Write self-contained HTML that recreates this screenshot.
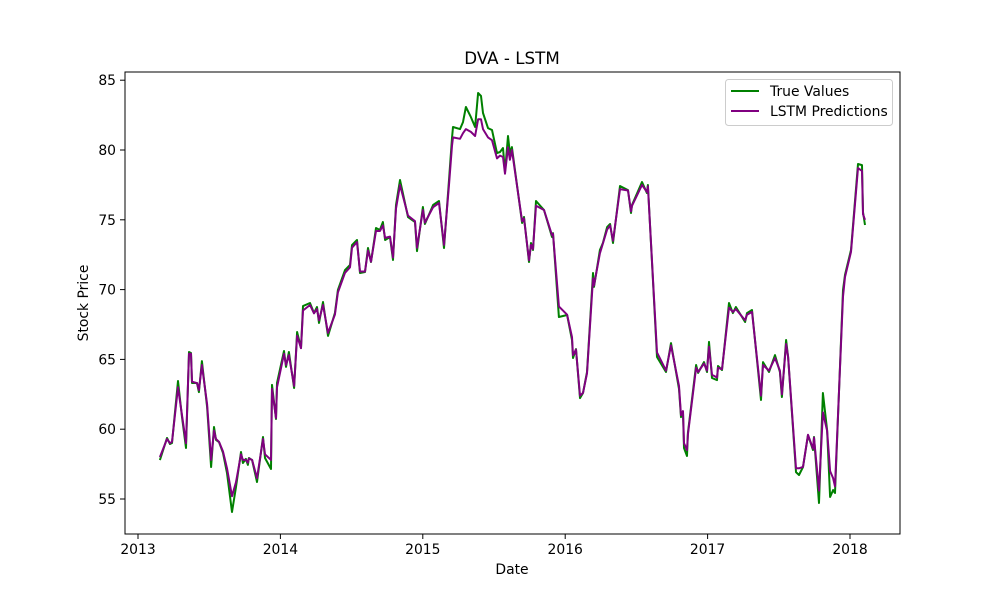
<!DOCTYPE html>
<html><head><meta charset="utf-8"><style>
body{margin:0;background:#fff}
svg{display:block;font-family:"DejaVu Sans","Liberation Sans",sans-serif}
</style></head><body>
<svg id="chart" width="1000" height="600" viewBox="0 0 1000 600">
<rect width="1000" height="600" fill="#fff"/>
<text x="512" y="64" font-size="16.7" text-anchor="middle">DVA - LSTM</text>
<g id="plot"></g>
<rect x="125" y="72" width="775" height="462" fill="none" stroke="#000" stroke-width="1"/>
<g id="ticks"></g>
<text x="512" y="574" font-size="13.9" text-anchor="middle">Date</text>
<text x="88" y="303" font-size="13.9" text-anchor="middle" transform="rotate(-90 88 303)">Stock Price</text>
<g>
<rect x="725.5" y="79.5" width="167" height="46" rx="3" fill="#fff" fill-opacity="0.8" stroke="#ccc"/>
<g><line x1="731" y1="91" x2="759" y2="91" stroke="green" stroke-width="2"/><text x="770" y="96" font-size="13.9">True Values</text></g>
<g><line x1="731" y1="111" x2="759" y2="111" stroke="purple" stroke-width="2"/><text x="770" y="116" font-size="13.9">LSTM Predictions</text></g>
</g>
</svg>
<script>
const dates=[0.154,0.204,0.225,0.239,0.281,0.309,0.337,0.358,0.372,0.379,0.414,0.428,0.449,0.485,0.513,0.534,0.548,0.569,0.597,0.625,0.660,0.688,0.723,0.737,0.758,0.772,0.779,0.801,0.836,0.878,0.892,0.934,0.941,0.969,0.976,1.025,1.039,1.060,1.096,1.117,1.145,1.159,1.208,1.236,1.257,1.271,1.299,1.334,1.383,1.404,1.454,1.489,1.503,1.538,1.559,1.594,1.615,1.636,1.671,1.699,1.720,1.735,1.770,1.791,1.812,1.840,1.896,1.945,1.959,2.001,2.015,2.072,2.114,2.149,2.184,2.205,2.212,2.261,2.282,2.303,2.338,2.367,2.388,2.409,2.423,2.458,2.486,2.521,2.542,2.563,2.577,2.598,2.612,2.626,2.697,2.711,2.746,2.760,2.774,2.795,2.851,2.907,2.914,2.956,3.013,3.048,3.055,3.076,3.104,3.125,3.153,3.195,3.202,3.244,3.265,3.294,3.315,3.336,3.385,3.441,3.462,3.469,3.539,3.574,3.581,3.645,3.708,3.743,3.799,3.813,3.827,3.834,3.855,3.862,3.919,3.933,3.975,3.996,4.010,4.031,4.066,4.073,4.101,4.150,4.178,4.199,4.263,4.277,4.312,4.375,4.389,4.431,4.473,4.508,4.522,4.551,4.565,4.621,4.642,4.670,4.705,4.740,4.747,4.782,4.810,4.839,4.860,4.881,4.895,4.951,4.965,5.007,5.056,5.084,5.091,5.105];
const trueVals=[57.79,59.37,58.94,59.01,63.45,60.87,58.65,65.53,65.46,63.31,63.31,62.66,64.88,61.59,57.29,60.16,59.23,59.08,58.30,56.86,54.07,55.86,58.37,57.58,57.87,57.44,57.94,57.79,56.22,59.44,57.94,57.15,63.17,60.73,63.31,65.60,64.46,65.53,62.95,66.96,65.82,68.82,69.04,68.32,68.75,67.61,69.11,66.68,68.32,69.97,71.40,71.76,73.19,73.55,71.19,71.26,72.98,71.98,74.41,74.27,74.84,73.55,73.77,72.12,76.06,77.85,75.20,74.84,72.76,75.92,74.70,76.06,76.35,72.98,77.85,80.86,81.65,81.50,82.00,83.08,82.36,81.65,84.08,83.87,82.65,81.57,81.43,79.78,79.86,80.14,78.42,81.00,79.78,80.21,74.77,75.20,71.98,73.34,72.84,76.35,75.70,73.77,74.05,68.04,68.18,66.39,65.10,65.74,62.23,62.59,64.10,71.19,70.19,72.84,73.34,74.48,74.70,73.34,77.42,77.13,75.49,76.06,77.71,76.92,77.49,65.17,64.10,66.17,62.88,60.87,61.16,58.65,58.08,59.73,64.60,64.03,64.81,64.10,66.25,63.67,63.52,64.53,64.24,69.04,68.32,68.75,67.68,68.32,68.54,62.09,64.81,64.10,65.31,64.10,62.31,66.39,65.17,56.93,56.72,57.29,59.58,58.51,59.44,54.71,62.59,59.94,55.14,55.64,55.43,69.97,71.05,72.84,79.00,78.92,75.56,74.63];
const predVals=[58.0,59.3,59.0,59.1,63.0,61.0,59.0,65.4,65.4,63.4,63.3,62.8,64.6,61.8,57.8,59.9,59.3,59.1,58.4,57.2,55.2,56.2,58.2,57.8,57.8,57.6,57.9,57.8,56.5,59.3,58.2,57.8,62.9,60.8,63.0,65.4,64.6,65.3,63.1,66.7,65.8,68.5,68.9,68.3,68.6,67.8,68.9,66.9,68.2,69.8,71.2,71.6,73.0,73.4,71.3,71.3,72.8,72.0,74.2,74.2,74.6,73.7,73.8,72.3,75.8,77.5,75.3,74.9,73.0,75.7,74.8,75.9,76.2,73.2,77.5,80.3,80.9,80.8,81.2,81.5,81.3,81.0,82.2,82.2,81.5,80.9,80.7,79.4,79.6,79.5,78.3,80.2,79.3,80.0,74.9,75.1,72.1,73.2,72.9,76.0,75.7,73.9,74.0,68.8,68.2,66.6,65.3,65.7,62.4,62.6,64.0,70.8,70.3,72.6,73.3,74.3,74.6,73.5,77.2,77.1,75.6,76.0,77.5,77.0,77.4,65.5,64.2,66.0,63.1,61.0,61.3,59.0,58.5,59.6,64.4,64.1,64.7,64.2,65.9,63.9,63.7,64.4,64.3,68.7,68.4,68.6,67.8,68.2,68.4,62.4,64.6,64.2,65.1,64.2,62.5,66.1,65.2,57.2,57.2,57.3,59.6,58.6,59.4,55.6,61.2,59.9,57.0,56.5,55.9,69.5,70.9,72.7,78.7,78.5,75.4,75.0];
const yTicks=[55,60,65,70,75,80,85];
const xTicks=[2013,2014,2015,2016,2017,2018];
const baseYear=2013;
function xs(f){return 138+f*142.4;}
function ys(v){return 499-(v-55)*13.96;}
const NS="http://www.w3.org/2000/svg";
const plot=document.getElementById('plot'),ticks=document.getElementById('ticks');
function series(vals,color,name){
  const p=document.createElementNS(NS,'polyline');
  p.setAttribute('points',dates.map((d,i)=>xs(d).toFixed(1)+','+ys(vals[i]).toFixed(1)).join(' '));
  p.setAttribute('fill','none');p.setAttribute('stroke',color);p.setAttribute('stroke-width','2');
  p.setAttribute('stroke-linejoin','round');
  
  
  plot.appendChild(p);
}
series(trueVals,'green','true-values-line');
series(predVals,'purple','lstm-predictions-line');
yTicks.forEach(v=>{
  const y=ys(v);
  const l=document.createElementNS(NS,'line');
  l.setAttribute('x1',120);l.setAttribute('x2',125);l.setAttribute('y1',y);l.setAttribute('y2',y);l.setAttribute('stroke','#000');
  
  
  ticks.appendChild(l);
  const t=document.createElementNS(NS,'text');
  t.setAttribute('x',116);t.setAttribute('y',y+5);t.setAttribute('font-size','13.9');t.setAttribute('text-anchor','end');
  t.textContent=v;
  
  
  ticks.appendChild(t);
});
xTicks.forEach(yr=>{
  const x=xs(yr-baseYear);
  const l=document.createElementNS(NS,'line');
  l.setAttribute('x1',x);l.setAttribute('x2',x);l.setAttribute('y1',534);l.setAttribute('y2',539);l.setAttribute('stroke','#000');
  
  
  ticks.appendChild(l);
  const t=document.createElementNS(NS,'text');
  t.setAttribute('x',x);t.setAttribute('y',554);t.setAttribute('font-size','13.9');t.setAttribute('text-anchor','middle');
  t.textContent=yr;
  
  
  ticks.appendChild(t);
});
</script>
</body></html>
